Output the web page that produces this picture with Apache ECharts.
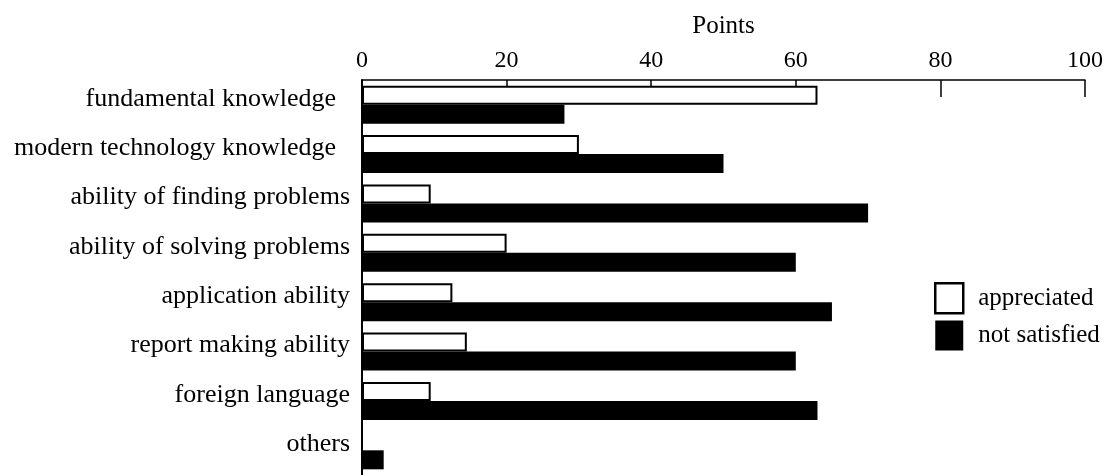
<!DOCTYPE html>
<html>
<head>
<meta charset="utf-8">
<script src="https://cdn.jsdelivr.net/npm/echarts@6/dist/echarts.min.js"></script>
<style>
  html, body { margin: 0; padding: 0; background: #fff; }
  #chart { width: 1109px; height: 475px; }
</style>
</head>
<body>
<div id="chart"></div>
<script>
// 数据
const categories = [
  "fundamental knowledge",
  "modern technology knowledge",
  "ability of finding problems",
  "ability of solving problems",
  "application ability",
  "report making ability",
  "foreign language",
  "others",
];
const appreciated = [63, 30, 9.5, 20, 12.5, 14.5, 9.5, 0];
const notSatisfied = [28, 50, 70, 60, 65, 60, 63, 3];
const xTicks = [0, 20, 40, 60, 80, 100];

const font = "Liberation Serif";

const chart = echarts.init(document.getElementById("chart"));

const options = {
  backgroundColor: "#fff",
  animation: false,
  textStyle: { fontFamily: font, color: "#000" },
  grid: {
    left: 362,
    top: 80,
    width: 723,
    height: 404, // 最后一行在图片底部被裁掉
  },
  legend: {
    orient: "vertical",
    left: 929,
    top: 277,
    itemWidth: 28,
    itemHeight: 30,
    itemGap: 6,
    textStyle: { fontFamily: font, fontSize: 25, color: "#000", padding: [0, 0, 0, 10] },
    data: [
      { name: "appreciated", icon: "rect", itemStyle: { color: "#fff", borderColor: "#000", borderWidth: 2.5 } },
      { name: "not satisfied", icon: "rect", itemStyle: { color: "#000" } },
    ],
  },
  xAxis: {
    type: "value",
    position: "top",
    min: xTicks[0],
    max: xTicks[xTicks.length - 1],
    interval: 20,
    name: "Points",
    nameLocation: "middle",
    nameGap: 41,
    nameTextStyle: { fontFamily: font, fontSize: 25, color: "#000" },
    axisLine: { show: true, lineStyle: { color: "#000", width: 1.5 } },
    axisTick: { show: true, inside: true, length: 17, lineStyle: { color: "#000", width: 1.5 } },
    axisLabel: { fontFamily: font, fontSize: 24, color: "#000", margin: 7 },
    splitLine: { show: false },
  },
  yAxis: {
    type: "category",
    inverse: true,
    data: categories,
    axisLine: { show: true, lineStyle: { color: "#000", width: 2 } },
    axisTick: { show: false },
    axisLabel: {
      fontFamily: font,
      fontSize: 26,
      color: "#000",
      margin: 12,
      interval: 0,
      // 标签略高于类目中心
      formatter: (val, idx) => (idx < 2 ? "{pad|" + val + "}" : "{txt|" + val + "}"),
      rich: {
        txt: { fontFamily: font, fontSize: 26, color: "#000", padding: [0, 0, 12, 0] },
        pad: { fontFamily: font, fontSize: 26, color: "#000", padding: [0, 14, 12, 0] },
      },
    },
  },
  series: [
    {
      name: "appreciated",
      type: "bar",
      barWidth: 19,
      barGap: "0%",
      data: appreciated,
      itemStyle: { color: "#fff", borderColor: "#000", borderWidth: 2 },
    },
    {
      name: "not satisfied",
      type: "bar",
      barWidth: 19,
      barGap: "0%",
      data: notSatisfied,
      itemStyle: { color: "#000" },
    },
  ],
};

chart.setOption(options);
</script>
</body>
</html>
